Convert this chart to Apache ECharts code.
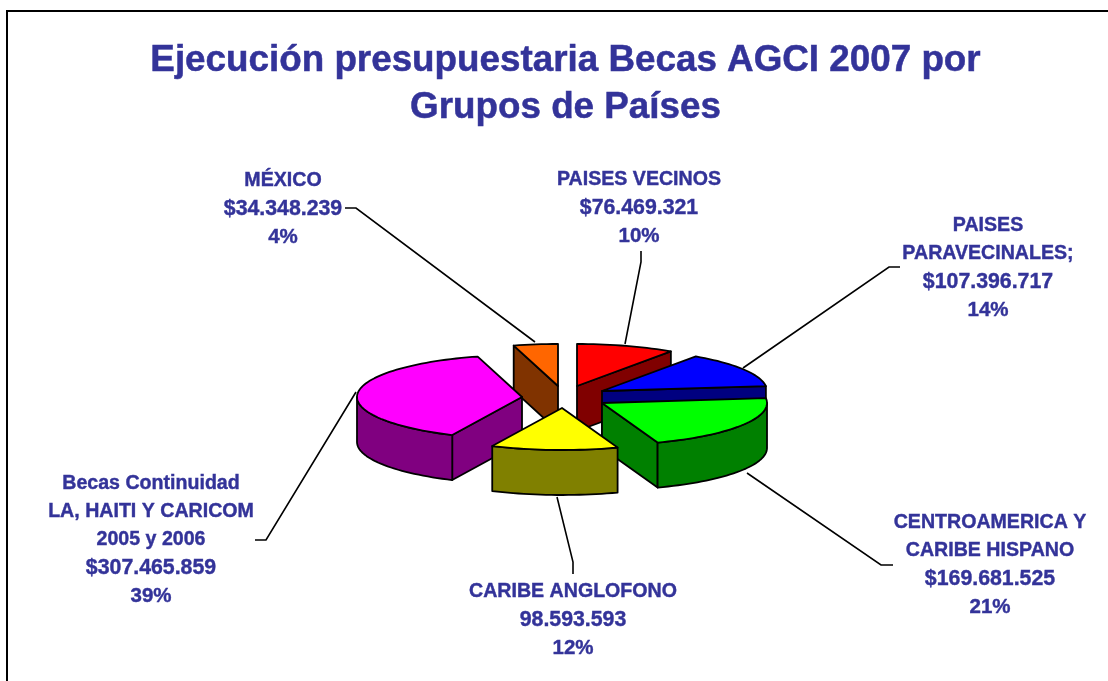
<!DOCTYPE html>
<html>
<head>
<meta charset="utf-8">
<title>Ejecución presupuestaria Becas AGCI 2007</title>
<style>
  html, body { margin: 0; padding: 0; background: #fff; }
  #chart { width: 1108px; height: 681px; }
</style>
<script src="https://cdn.jsdelivr.net/npm/echarts@6/dist/echarts.min.js"></script>
</head>
<body>
<div id="chart"></div>
<script>
// data, clockwise from 12 o'clock
const names = [
  'PAISES VECINOS',
  'PAISES\nPARAVECINALES;',
  'CENTROAMERICA Y\nCARIBE HISPANO',
  'CARIBE ANGLOFONO',
  'Becas Continuidad\nLA, HAITI Y CARICOM\n2005 y 2006',
  'MÉXICO'
]
const values = [76469321, 107396717, 169681525, 98593593, 307465859, 34348239]
const amountLabels = ['$76.469.321', '$107.396.717', '$169.681.525', '98.593.593', '$307.465.859', '$34.348.239']
const percentLabels = ['10%', '14%', '21%', '12%', '39%', '4%']

// pie look
const topColors = ['#FF0000', '#0000FF', '#00FF00', '#FFFF00', '#FF00FF', '#FF6600']
const sideColors = ['#800000', '#000080', '#008000', '#808000', '#800080', '#803300']
const radiusX = 165
const radiusY = 42
const depth = 45
// exploded position of each slice apex
const apex = [[577, 386], [602, 391], [602, 403], [562, 408], [522, 397], [558, 386]]
// back to front
const paintOrder = [5, 0, 4, 1, 2, 3]

// labels and leader lines
const labelPos = [[639, 208], [988, 268], [990, 565], [573, 620], [151, 540], [283, 209]]
const leaders = [
  [[641, 251], [641, 262], [625, 344]],
  [[900, 267], [889, 267], [743, 368]],
  [[893, 565], [881, 565], [747, 473]],
  [[573, 574], [573, 562], [557, 497]],
  [[255, 540], [266, 540], [356, 392]],
  [[345, 208], [356, 208], [535, 342]]
]

const total = values.reduce((a, b) => a + b, 0)
const textColor = '#333399'
const fontFamily = '"Liberation Sans", Arial, sans-serif'

function pointAt(i, deg, drop) {
  const r = deg * Math.PI / 180
  return [apex[i][0] + radiusX * Math.sin(r), apex[i][1] - radiusY * Math.cos(r) + drop]
}

function arcPoints(i, from, to, drop) {
  const pts = []
  const n = Math.max(2, Math.ceil((to - from) / 2))
  for (let k = 0; k <= n; k++) {
    pts.push(pointAt(i, from + (to - from) * k / n, drop))
  }
  return pts
}

function wall(pts, fill, z) {
  return {
    type: 'polygon',
    z2: z,
    shape: { points: pts },
    style: { fill: fill, stroke: '#000', lineWidth: 1.8, lineJoin: 'round' }
  }
}

function renderSlice(params, api) {
  const i = params.dataIndex
  const value = api.value(0)
  let start = 0
  for (let k = 0; k < i; k++) start += values[k]
  const a0 = start / total * 360
  const a1 = a0 + value / total * 360
  const rank = paintOrder.indexOf(i) * 10
  const side = sideColors[i]
  const tip = apex[i]
  const tipLow = [tip[0], tip[1] + depth]
  const children = []

  // cut faces, only the ones turned to the viewer
  if (Math.cos((a0 - 90) * Math.PI / 180) < -1e-6) {
    children.push(wall([tip, pointAt(i, a0, 0), pointAt(i, a0, depth), tipLow], side, rank + 1))
  }
  if (Math.cos((a1 + 90) * Math.PI / 180) < -1e-6) {
    children.push(wall([tip, pointAt(i, a1, 0), pointAt(i, a1, depth), tipLow], side, rank + 1))
  }
  // outer rim, front half only
  const f0 = Math.max(a0, 90)
  const f1 = Math.min(a1, 270)
  if (f1 > f0) {
    const up = arcPoints(i, f0, f1, 0)
    const down = arcPoints(i, f0, f1, depth).reverse()
    children.push(wall(up.concat(down), side, rank + 2))
  }
  // top face
  children.push(wall([tip].concat(arcPoints(i, a0, a1, 0)), topColors[i], rank + 3))

  return { type: 'group', children: children }
}

const graphics = [
  // chart frame
  {
    type: 'polyline',
    silent: true,
    shape: { points: [[7, 681], [7, 11], [1108, 11]] },
    style: { stroke: '#000', lineWidth: 2, fill: null }
  }
]
names.forEach((name, i) => {
  const nameLines = name.split('\n').map(s => '{n|' + s + '}')
  graphics.push({
    type: 'text',
    silent: true,
    x: labelPos[i][0],
    y: labelPos[i][1],
    style: {
      text: nameLines.join('\n') + '\n{a|' + amountLabels[i] + '}\n{p|' + percentLabels[i] + '}',
      align: 'center',
      verticalAlign: 'middle',
      rich: {
        n: { fill: textColor, font: 'bold 19.6px ' + fontFamily, lineHeight: 28.2, stroke: textColor, lineWidth: 0.4 },
        a: { fill: textColor, font: 'bold 21.3px ' + fontFamily, lineHeight: 28.2, stroke: textColor, lineWidth: 0.4 },
        p: { fill: textColor, font: 'bold 20.5px ' + fontFamily, lineHeight: 28.2, stroke: textColor, lineWidth: 0.4 }
      }
    }
  })
  graphics.push({
    type: 'polyline',
    silent: true,
    shape: { points: leaders[i] },
    style: { stroke: '#000', lineWidth: 1.6, fill: null }
  })
})

const myChart = echarts.init(document.getElementById('chart'), null, { renderer: 'canvas' })
myChart.setOption({
  backgroundColor: '#fff',
  animation: false,
  title: {
    text: 'Ejecución presupuestaria Becas AGCI 2007 por\nGrupos de Países',
    left: 560.5,
    top: 32,
    textAlign: 'center',
    textStyle: {
      color: textColor,
      fontFamily: fontFamily,
      fontWeight: 'bold',
      fontSize: 36.8,
      lineHeight: 47,
      textBorderColor: textColor,
      textBorderWidth: 0.5
    }
  },
  graphic: graphics,
  series: [
    {
      type: 'custom',
      coordinateSystem: 'none',
      silent: true,
      renderItem: renderSlice,
      data: values.map(v => [v])
    }
  ]
})
</script>
</body>
</html>
